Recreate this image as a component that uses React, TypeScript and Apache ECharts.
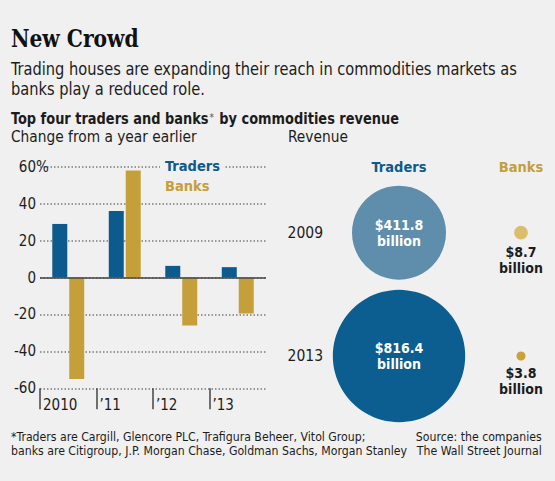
import React, { useEffect, useRef } from "react";
import * as echarts from "echarts";

const years = ["2010", "\u201911", "\u201912", "\u201913"];
const tradersChange = [29, 36, 6.3, 5.6];
const banksChange = [-55, 58, -26, -19.5];
const changeMin = -60;
const changeMax = 60;
const changeStep = 20;

const revenueYears = ["2009", "2013"];
const revenueGroups = ["Traders", "Banks"];
const tradersRevenue = [411.8, 816.4];
const banksRevenue = [8.7, 3.8];

const NARROW = '"DejaVu Sans Condensed", "DejaVu Sans", sans-serif';
const SERIF = '"DejaVu Serif Condensed", "DejaVu Serif", serif';
const BG = "#f0f0f0";
const BLUE = "#0d5b8c";
const GOLD = "#c49f3a";
const TRADER_CIRCLES = ["#5f8dac", "#0b5e8f"];
const BANK_CIRCLES = ["#dbbe6c", "#c9a23b"];
const INK = "#1c1c1c";
const R_REF = 47;

export default function App() {
  const ref = useRef<HTMLDivElement>(null);
  useEffect(() => {
    document.body.style.margin = "0";
    const chart = echarts.init(ref.current!, null, { renderer: "svg" });
    const text = (t: string, x: number, y: number, size: number, weight: string, extra: any = {}, sx = 1) => ({
      type: "text",
      x,
      y,
      scaleX: sx,
      style: {
        text: t,
        fontFamily: NARROW,
        fontSize: size,
        fontWeight: weight,
        fill: INK,
        verticalAlign: "middle",
        ...extra,
      },
    });
    const option: any = {
      animation: false,
      backgroundColor: BG,
      legend: {
        data: [
          { name: "Traders", textStyle: { color: BLUE } },
          { name: "Banks", textStyle: { color: GOLD } },
        ],
        orient: "vertical",
        left: 160,
        top: 155,
        icon: "none",
        itemWidth: 0,
        itemHeight: 14,
        itemGap: 2,
        padding: [2, 4, 2, 0],
        backgroundColor: BG,
        selectedMode: false,
        textStyle: { fontFamily: NARROW, fontSize: 14.5, fontWeight: "bold", lineHeight: 18 },
      },
      grid: [
        { left: 40, top: 166.7, width: 226, height: 221.6 },
        { left: 399, top: 232.7, width: 122, height: 123.3 },
      ],
      xAxis: [
        { type: "category", gridIndex: 0, data: years, show: false },
        {
          type: "value",
          gridIndex: 0,
          position: "bottom",
          min: 0,
          max: 4,
          axisLine: { show: false },
          splitLine: { show: false },
          axisTick: { show: true, customValues: [0, 1, 2, 3], length: 21, lineStyle: { color: "#444", width: 1.5 } },
          axisLabel: {
            customValues: [0, 1, 2, 3],
            formatter: (v: number) => years[Math.round(v)],
            align: "left",
            padding: [0, 0, 0, 3],
            margin: 9,
            fontFamily: NARROW,
            fontSize: 15,
            color: INK,
          },
        },
        {
          type: "category",
          gridIndex: 1,
          data: revenueGroups,
          position: "top",
          boundaryGap: false,
          axisLine: { show: false },
          axisTick: { show: false },
          splitLine: { show: false },
          axisLabel: {
            margin: 66,
            verticalAlign: "middle",
            fontFamily: NARROW,
            fontSize: 14.5,
            fontWeight: "bold",
            color: (v: string) => (v === "Traders" ? BLUE : GOLD),
          },
        },
      ],
      yAxis: [
        {
          type: "value",
          gridIndex: 0,
          min: changeMin,
          max: changeMax,
          interval: changeStep,
          axisLine: { show: false },
          axisTick: { show: false },
          splitLine: { show: true, lineStyle: { color: "#7a7a7a", width: 1.5, type: [1.5, 2] } },
          axisLabel: {
            margin: -7,
            fontFamily: NARROW,
            fontSize: 15,
            color: INK,
            formatter: (v: number) => (v === changeMax ? `{n|${v}}{p|%}` : `{n|${v}}{p| }`),
            rich: {
              n: { fontFamily: NARROW, fontSize: 15, color: INK, align: "left" },
              p: { fontFamily: NARROW, fontSize: 15, color: INK, width: 11, align: "left" },
            },
          },
        },
        {
          type: "category",
          gridIndex: 1,
          data: revenueYears,
          inverse: true,
          boundaryGap: false,
          axisLine: { show: false },
          axisTick: { show: false },
          splitLine: { show: false },
          axisLabel: { margin: 76, fontFamily: NARROW, fontSize: 15.5, color: INK },
        },
      ],
      series: [
        {
          name: "Traders",
          type: "bar",
          xAxisIndex: 0,
          yAxisIndex: 0,
          data: tradersChange,
          barWidth: 15,
          barGap: "13%",
          itemStyle: { color: BLUE },
          markLine: {
            silent: true,
            symbol: "none",
            label: { show: false },
            lineStyle: { color: "#444", width: 1.5, type: "solid" },
            data: [{ yAxis: 0 }],
          },
        },
        {
          name: "Banks",
          type: "bar",
          xAxisIndex: 0,
          yAxisIndex: 0,
          data: banksChange,
          barWidth: 15,
          barGap: "13%",
          itemStyle: { color: GOLD },
        },
        {
          name: "Traders revenue",
          type: "scatter",
          xAxisIndex: 2,
          yAxisIndex: 1,
          symbolSize: (val: number[]) => 2 * R_REF * Math.sqrt(val[2] / tradersRevenue[0]),
          data: tradersRevenue.map((v, i) => ({
            value: [0, i, v],
            itemStyle: { color: TRADER_CIRCLES[i], opacity: 1 },
          })),
          label: {
            show: true,
            position: "inside",
            formatter: (p: any) => `$${p.value[2].toFixed(1)}\nbillion`,
            color: "#fff",
            fontFamily: NARROW,
            fontSize: 14,
            fontWeight: "bold",
            lineHeight: 16,
          },
        },
        {
          name: "Banks revenue",
          type: "scatter",
          xAxisIndex: 2,
          yAxisIndex: 1,
          symbolSize: (val: number[]) => 2 * R_REF * Math.sqrt(val[2] / tradersRevenue[0]),
          data: banksRevenue.map((v, i) => ({
            value: [1, i, v],
            itemStyle: { color: BANK_CIRCLES[i], opacity: 1 },
          })),
          label: {
            show: true,
            position: "bottom",
            distance: 4,
            formatter: (p: any) => `$${p.value[2].toFixed(1)}\nbillion`,
            color: INK,
            fontFamily: NARROW,
            fontSize: 14,
            fontWeight: "bold",
            lineHeight: 16,
          },
        },
      ],
      graphic: [
        text("New Crowd", 11, 39, 25, "bold", { fontFamily: SERIF, fill: "#111" }, 0.9),
        text("Trading houses are expanding their reach in commodities markets as", 11, 69, 17.5, "normal", {}, 0.93),
        text("banks play a reduced role.", 11, 89, 17.5, "normal", {}, 0.93),
        text(
          "Top four traders and banks{s|*} by commodities revenue",
          11,
          119,
          16,
          "bold",
          {
            rich: {
              s: { fontFamily: NARROW, fontSize: 11, fontWeight: "normal", fill: "#555", verticalAlign: "top", padding: [0, 1, 0, 1] },
            },
          },
          0.9
        ),
        text("Change from a year earlier", 11, 137, 15.3, "normal"),
        text("Revenue", 288, 137, 15.3, "normal"),
        text("*Traders are Cargill, Glencore PLC, Trafigura Beheer, Vitol Group;", 11, 437, 12.2, "normal"),
        text("banks are Citigroup, J.P. Morgan Chase, Goldman Sachs, Morgan Stanley", 11, 451, 12.2, "normal"),
        text("Source: the companies", 541.7, 437, 12.2, "normal", { align: "right" }),
        text("The Wall Street Journal", 541.7, 451, 12.2, "normal", { align: "right" }),
      ],
    };
    chart.setOption(option);
    return () => chart.dispose();
  }, []);
  return <div ref={ref} style={{ width: 555, height: 481 }} />;
}
